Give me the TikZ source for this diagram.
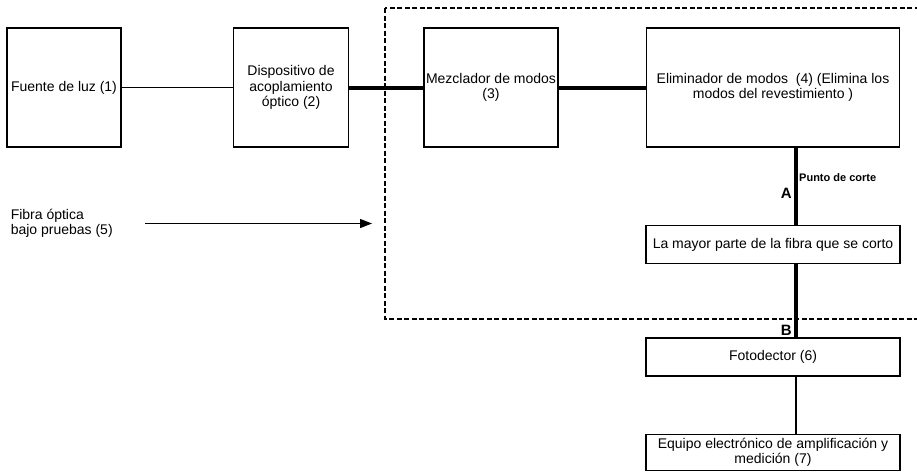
\documentclass[tikz,border=0pt]{standalone}
\usepackage{fontspec}
\setmainfont{Liberation Sans}
\usetikzlibrary{positioning, arrows.meta}

\begin{document}
\begin{tikzpicture}[
      x=1pt, y=-1pt,
      % Styling nodes
      base/.style={
        draw,
        rectangle,
        line width=1.5pt,
        align=center,
        font=\fontsize{14}{15.5}\selectfont,
        inner sep=2pt
      },
      bloque/.style={base, minimum height=119pt},
      ancho/.style={base, minimum width=254pt, minimum height=38pt},
      marca/.style={font=\bfseries\fontsize{15}{15}\selectfont, inner sep=1pt},
      delgada/.style={line width=1.3pt},
      gruesa/.style={line width=4pt},
      marco/.style={line width=1.8pt, dash pattern=on 5pt off 2.5pt},
      arrow/.style={-{Triangle[length=12pt,width=9pt]}, line width=1.3pt}
    ]
    \useasboundingbox (0,0) rectangle (917,472);

    % Upper row of blocks
    \node (fuente) [bloque, minimum width=114pt] at (64,87.5) {Fuente de luz (1)};
    \node (acopla) [bloque, minimum width=115pt, right=111pt of fuente] {Dispositivo de\\acoplamiento\\óptico (2)};
    \node (mezcla) [bloque, minimum width=134pt, right=74pt of acopla] {Mezclador de modos\\(3)};
    \node (elimina) [bloque, minimum width=253pt, right=87pt of mezcla] {Eliminador de modos~ (4) (Elimina los\\modos del revestimiento )};

    % Right column
    \node (corte) [ancho, below=77pt of elimina] {La mayor parte de la fibra que se corto};
    \node (fotodet) [ancho, below=73pt of corte] {Fotodector (6)};
    \node (equipo) [ancho, minimum height=36pt, below=57pt of fotodet] {Equipo electrónico de amplificación y\\medición (7)};

    % Fiber under test
    \node (fibra5) [base, draw=none, align=left, anchor=west] at (8,223.5) {Fibra óptica\\bajo pruebas (5)};
    \coordinate (entrada) at (372,223.5);
    \coordinate (fibra) at (796,0);

    % Dashed frame
    \draw[marco] (385,8) rectangle (930,319);

    % Arrows
    \draw[delgada] (fuente) -- (acopla);
    \draw[gruesa] (acopla) -- (mezcla);
    \draw[gruesa] (mezcla) -- (elimina);
    \draw[gruesa] (elimina.south -| fibra) -- (corte.north -| fibra);
    \draw[gruesa] (corte.south -| fibra) -- (fotodet.north -| fibra);
    \draw[delgada] (fotodet.south -| fibra) -- (equipo.north -| fibra);
    \draw[arrow] (fibra5.east) ++(30pt,0) -- (entrada);

    % Cut points
    \node (puntoA) [marca, anchor=east] at (793,193) {A};
    \node (corteT) [font=\bfseries\fontsize{11}{11}\selectfont, inner sep=1pt, anchor=west] at (798,178) {Punto de corte};
    \node (puntoB) [marca, anchor=east] at (793,330) {B};

  \end{tikzpicture}
\end{document}
